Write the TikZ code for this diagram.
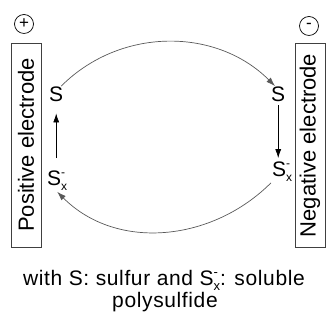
\documentclass[tikz,border=0pt]{standalone}
\usepackage{fontspec}
\setmainfont{Liberation Sans}
\newfontfamily\widefont[LetterSpace=3]{Liberation Sans}
\usetikzlibrary{arrows.meta}

% S with stacked sub x and sup minus
\newcommand{\polyS}[1]{S\rlap{\raisebox{0.45em}{\fontsize{#1}{#1}\selectfont -}}\raisebox{-0.22em}{\fontsize{#1}{#1}\selectfont x}}

\begin{document}
\begin{tikzpicture}[x=1pt, y=1pt,
  every node/.style={font=\fontsize{21}{21}\selectfont},
  electrode/.style={draw=black!75, line width=0.8pt, rotate=90, minimum width=204pt,
    minimum height=30pt, inner sep=0pt, font=\fontsize{22}{22}\selectfont},
  sign/.style={draw, circle, line width=0.7pt, minimum size=19pt, inner sep=0pt,
    font=\fontsize{17}{17}\selectfont},
  species/.style={anchor=base west, inner sep=1pt},
  flow/.style={draw=black!65, line width=0.7pt, -{Latex[length=9pt, width=6pt]}},
  react/.style={line width=0.7pt, -{Latex[length=9pt, width=6pt]}}]
  \useasboundingbox (0,0) rectangle (326,320);

  % the two electrodes with their signs
  \node[electrode] (pos) at (26,175) {Positive electrode};
  \node[electrode] (neg) at (310,174.5) {Negative electrode};
  \node[sign] (plus) at (24,296) {+};
  \node[sign] (minus) at (309,294) {-};

  % sulfur species
  \node[species] (lS) at (48,218) {S};
  \node[species] (lSx) at (46,134) {\polyS{12}};
  \node[species] (rS) at (270,218) {S};
  \node[species] (rSx) at (271,143) {\polyS{12}};

  % reactions at the electrodes
  \draw[react, shorten <=12pt, shorten >=10pt] (lS.south |- lSx.north) -- (lS.south);
  \draw[react, shorten <=2pt, shorten >=3pt] (rS.south) -- (rS.south |- rSx.north);

  % transport between the electrodes
  \draw[flow] (lS.60) to[out=45, in=135] (rS.110);
  \draw[flow] (rSx.south west) to[out=-135, in=-45] (lSx.south);

  % legend
  \node[anchor=base] (note) at (164,34) {\widefont with S: sulfur and \polyS{13}: soluble};
  \node[anchor=base] (note2) at (165,12) {\widefont polysulfide};
\end{tikzpicture}
\end{document}
